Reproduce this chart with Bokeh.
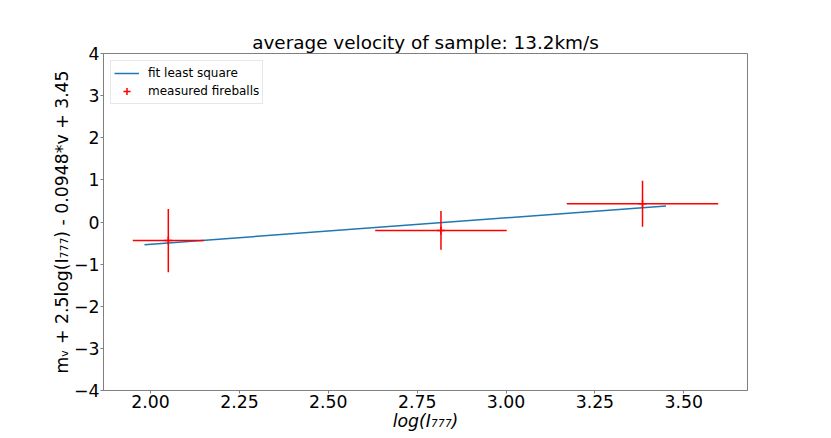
from bokeh.plotting import figure
from bokeh.models import Range1d, FixedTicker, Legend, LegendItem, ColumnDataSource
from bokeh.embed import file_html
from bokeh.resources import INLINE

# ---- data ----
log_i777 = [2.05, 2.817, 3.384]
mag_corr = [-0.44, -0.20, 0.435]
x_err = [0.10, 0.185, 0.213]
y_err = [0.75, 0.46, 0.545]

fit_x = [1.983, 3.45]
fit_y = [-0.54, 0.38]

x_ticks = [2.0, 2.25, 2.5, 2.75, 3.0, 3.25, 3.5]
x_tick_labels = ["2.00", "2.25", "2.50", "2.75", "3.00", "3.25", "3.50"]
y_ticks = [-4, -3, -2, -1, 0, 1, 2, 3, 4]
y_tick_labels = ["\u22124", "\u22123", "\u22122", "\u22121", "0", "1", "2", "3", "4"]

title_text = "average velocity of sample: 13.2km/s"
x_label = "log(I\u2087\u2087\u2087)"
y_label = "m\u1d65 + 2.5log(I\u2087\u2087\u2087) - 0.0948*v + 3.45"
fit_name = "fit least square"
meas_name = "measured fireballs"

FONT = "DejaVu Sans"

# ---- derived ----
x0 = [x - e for x, e in zip(log_i777, x_err)]
x1 = [x + e for x, e in zip(log_i777, x_err)]
y0 = [y - e for y, e in zip(mag_corr, y_err)]
y1 = [y + e for y, e in zip(mag_corr, y_err)]
lo, hi = min(x0), max(x1)
pad = 0.05 * (hi - lo)

src = ColumnDataSource(dict(x=log_i777, y=mag_corr, x0=x0, x1=x1, y0=y0, y1=y1))

p = figure(width=815, height=436, output_backend="svg", toolbar_location=None,
           x_range=Range1d(lo - pad, hi + pad), y_range=Range1d(-4, 4),
           min_border_left=103, min_border_right=68, min_border_top=53, min_border_bottom=46)

p.background_fill_color = "white"
p.border_fill_color = "white"
p.outline_line_color = "#808080"
p.outline_line_width = 1
p.xgrid.visible = False
p.ygrid.visible = False

p.title.text = title_text
p.title.align = "center"
p.title.text_font = FONT
p.title.text_font_size = "18.4px"
p.title.text_font_style = "normal"
p.title.text_color = "black"
p.title.standoff = 1

for ax in (p.xaxis[0], p.yaxis[0]):
    ax.axis_line_color = "#808080"
    ax.major_tick_line_color = "#808080"
    ax.major_tick_in = 0
    ax.major_tick_out = 3
    ax.minor_tick_line_color = None
    ax.major_label_text_font = FONT
    ax.major_label_text_font_size = "17.3px"
    ax.major_label_text_color = "black"
    ax.axis_label_text_font = FONT
    ax.axis_label_text_font_size = "17.3px"
    ax.axis_label_text_color = "black"
    ax.major_label_standoff = 1

p.xaxis.ticker = FixedTicker(ticks=x_ticks)
p.xaxis.major_label_overrides = {t: l for t, l in zip(x_ticks, x_tick_labels)}
p.yaxis.ticker = FixedTicker(ticks=y_ticks)
p.yaxis.major_label_overrides = {t: l for t, l in zip(y_ticks, y_tick_labels)}

p.xaxis.axis_label = x_label
p.xaxis.axis_label_text_font_style = "italic"
p.xaxis.axis_label_standoff = 0
p.yaxis.axis_label = y_label
p.yaxis.axis_label_text_font_style = "normal"
p.yaxis.axis_label_standoff = -1

fit_r = p.line(fit_x, fit_y, line_color="#1f77b4", line_width=1.5)

h_r = p.segment(x0="x0", y0="y", x1="x1", y1="y", source=src, line_color="red", line_width=1.5)
v_r = p.segment(x0="x", y0="y0", x1="x", y1="y1", source=src, line_color="red", line_width=1.5)
m_r = p.scatter(x="x", y="y", source=src, marker="cross", size=8, line_color="red", line_width=1.5)

legend = Legend(items=[LegendItem(label=fit_name, renderers=[fit_r]),
                       LegendItem(label=meas_name, renderers=[m_r])],
                location="top_left")
legend.margin = 7
legend.padding = 3
legend.spacing = -1
legend.glyph_width = 25
legend.glyph_height = 18
legend.label_height = 14
legend.label_standoff = 9
legend.label_text_font = FONT
legend.label_text_font_size = "12px"
legend.label_text_color = "black"
legend.border_line_color = "#d0d0d0"
legend.border_line_width = 1
legend.background_fill_color = "white"
legend.background_fill_alpha = 0.8
p.add_layout(legend)

open("out.html", "w").write(file_html(p, INLINE))
